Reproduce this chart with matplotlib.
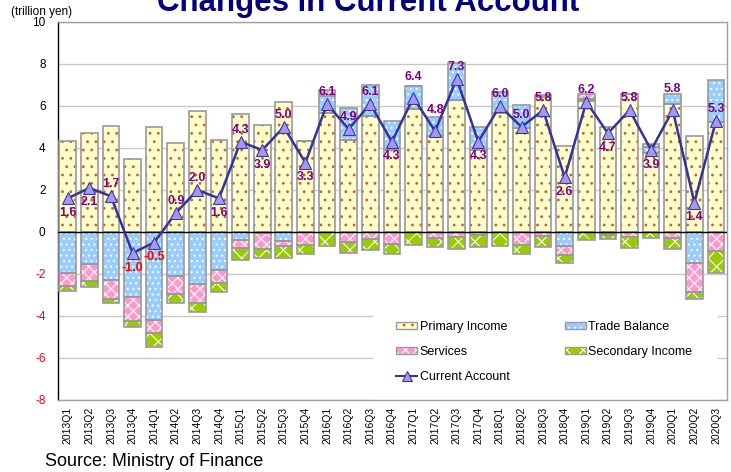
import matplotlib
matplotlib.use("Agg")
import matplotlib.pyplot as plt
import numpy as np
from matplotlib.patches import Patch, Rectangle
from matplotlib.lines import Line2D
from matplotlib.legend_handler import HandlerTuple

plt.rcParams['font.family'] = ['Liberation Sans', 'DejaVu Sans']
plt.rcParams['hatch.linewidth'] = 0.8

# ---------------- data (trillion yen) ----------------
quarters = ["2013Q1", "2013Q2", "2013Q3", "2013Q4", "2014Q1", "2014Q2", "2014Q3", "2014Q4",
            "2015Q1", "2015Q2", "2015Q3", "2015Q4", "2016Q1", "2016Q2", "2016Q3", "2016Q4",
            "2017Q1", "2017Q2", "2017Q3", "2017Q4", "2018Q1", "2018Q2", "2018Q3", "2018Q4",
            "2019Q1", "2019Q2", "2019Q3", "2019Q4", "2020Q1", "2020Q2", "2020Q3"]

primary_income = [4.35, 4.70, 5.07, 3.46, 4.98, 4.23, 5.74, 4.39,
                  5.61, 5.10, 6.19, 4.32, 5.66, 4.39, 5.53, 3.92,
                  5.87, 4.55, 6.30, 3.92, 5.68, 4.94, 6.43, 4.08,
                  6.24, 4.98, 6.56, 3.76, 6.08, 4.55, 5.24]

trade_balance = [-1.93, -1.53, -2.27, -3.11, -4.19, -2.09, -2.48, -1.82,
                 -0.39, -0.07, -0.44, 0.00, 0.84, 1.50, 1.49, 1.36,
                 1.10, 0.94, 1.77, 1.10, 0.97, 1.12, 0.09, -0.69,
                 0.11, -0.04, 0.00, 0.29, 0.51, -1.47, 2.02]

services = [-0.63, -0.79, -0.92, -1.11, -0.61, -0.86, -0.90, -0.61,
            -0.35, -0.72, -0.24, -0.63, 0.25, -0.48, -0.32, -0.55,
            0.00, -0.27, -0.24, -0.16, 0.00, -0.64, -0.19, -0.39,
            0.21, -0.12, -0.24, 0.13, -0.27, -1.38, -0.91]

secondary_income = [-0.24, -0.29, -0.17, -0.28, -0.68, -0.45, -0.41, -0.41,
                    -0.60, -0.45, -0.54, -0.40, -0.65, -0.50, -0.55, -0.49,
                    -0.61, -0.45, -0.59, -0.54, -0.67, -0.43, -0.54, -0.40,
                    -0.40, -0.19, -0.52, -0.30, -0.52, -0.35, -1.06]

current_account = [1.6, 2.1, 1.7, -1.0, -0.5, 0.9, 2.0, 1.6,
                   4.3, 3.9, 5.0, 3.3, 6.1, 4.9, 6.1, 4.3,
                   6.4, 4.8, 7.3, 4.3, 6.0, 5.0, 5.8, 2.6,
                   6.2, 4.7, 5.8, 3.9, 5.8, 1.4, 5.3]

# label placement: a = above, A = far above, b = below
label_pos = ['b', 'b', 'a', 'b', 'b', 'a', 'a', 'b',
             'a', 'b', 'a', 'b', 'a', 'a', 'a', 'b',
             'A', 'A', 'a', 'b', 'a', 'a', 'a', 'b',
             'a', 'b', 'a', 'b', 'A', 'b', 'a']

# ---------------- figure ----------------
fig = plt.figure(figsize=(7.31, 4.72), dpi=100)
ax = fig.add_axes([58/731, 1-400/472, (727-58)/731, (400-22)/472])

x = np.arange(len(quarters))
width = 0.77
edge_gray = '#999999'

series = [
    ("Primary Income", primary_income, '#FFFFCC', '..', '#C8602E'),
    ("Trade Balance", trade_balance, '#99CCFF', '...', 'white'),
    ("Services", services, '#FF99CC', 'xxx', 'white'),
    ("Secondary Income", secondary_income, '#99CC00', 'xx', 'white'),
]

pos_bottom = np.zeros(len(x))
neg_bottom = np.zeros(len(x))
handles = {}
for name, vals, face, hatch, hcol in series:
    v = np.array(vals, dtype=float)
    bottom = np.where(v >= 0, pos_bottom, neg_bottom)
    ax.bar(x, v, bottom=bottom, width=width, color=face, edgecolor=hcol,
           linewidth=0, hatch=hatch, zorder=2)
    ax.bar(x, v, bottom=bottom, width=width, fill=False, edgecolor=edge_gray,
           linewidth=1.2, zorder=3)
    pos_bottom = pos_bottom + np.where(v >= 0, v, 0)
    neg_bottom = neg_bottom + np.where(v < 0, v, 0)
    p1 = Patch(facecolor=face, edgecolor=hcol, linewidth=0, hatch=hatch)
    p2 = Patch(facecolor='none', edgecolor=edge_gray, linewidth=1.0)
    handles[name] = (p1, p2)

line_col = '#333399'
ax.plot(x, current_account, color=line_col, linewidth=1.8, marker='^',
        markersize=8.5, markerfacecolor='#A597F2', markeredgecolor='#3A3AA0',
        markeredgewidth=0.8, zorder=5)

for xi, v, pos in zip(x, current_account, label_pos):
    col = '#FF0000' if v < 0 else '#800080'
    if pos == 'a':
        off = 8.5
    elif pos == 'A':
        off = 15
    else:
        off = -10.5
    ax.annotate(f"{v:.1f}", (xi, v), xytext=(0, off), textcoords='offset points',
                ha='center', va='center', fontsize=9, fontweight='bold',
                color=col, zorder=6)

# axes styling
ax.set_xlim(-0.45, len(x) - 0.49)
ax.set_ylim(-8, 10)
ax.set_yticks(np.arange(-8, 11, 2))
ax.set_yticklabels([str(t) for t in range(-8, 11, 2)], fontsize=8.5)
for lbl, t in zip(ax.get_yticklabels(), range(-8, 11, 2)):
    lbl.set_color('#FF0000' if t < 0 else 'black')
ax.set_xticks(x)
ax.set_xticklabels(quarters, rotation=90, fontsize=7.5)
ax.tick_params(axis='x', length=0, pad=5)
ax.tick_params(axis='y', length=0, pad=9)

ax.grid(axis='y', color='#C8C8C8', linewidth=1, zorder=0)
ax.set_axisbelow(True)
ax.axhline(0, color='black', linewidth=1, zorder=4)
for s in ['top', 'right', 'bottom']:
    ax.spines[s].set_color('#A0A0A0')
    ax.spines[s].set_linewidth(1)
ax.spines['left'].set_color('black')
ax.spines['left'].set_linewidth(1)

# white area behind legend (hides gridlines)
ax.add_patch(Rectangle(((373-58)/669, 0.0), (718-373)/669, (400-293)/378,
                       transform=ax.transAxes, facecolor='white', edgecolor='none',
                       zorder=1))

ca_handle = Line2D([], [], color=line_col, linewidth=1.5, marker='^', markersize=7,
                   markerfacecolor='#A597F2', markeredgecolor='#3A3AA0', markeredgewidth=0.8)
leg_handles = [handles["Primary Income"], handles["Services"], ca_handle,
               handles["Trade Balance"], handles["Secondary Income"]]
leg_labels = ["Primary Income", "Services", "Current Account",
              "Trade Balance", "Secondary Income"]
leg = ax.legend(leg_handles, leg_labels, ncol=2, loc='upper left',
                bbox_to_anchor=((396-58)/669, (400-321)/378), frameon=False,
                fontsize=9, handlelength=1.7, handleheight=0.55, handletextpad=0.2,
                columnspacing=4.4, labelspacing=1.05, borderpad=0, borderaxespad=0,
                handler_map={tuple: HandlerTuple(ndivide=1, pad=0)})
leg.set_zorder(7)

# texts
fig.text(42/731, 1-12/472, "(trillion yen)", ha='center', va='center', fontsize=8.5)
fig.text(0.503, 1-10.5/472, "Changes in Current Account", ha='center', va='baseline',
         fontsize=22.5, fontweight='bold', color='#000080')
fig.text(45/731, 1-462/472, "Source: Ministry of Finance", ha='left', va='center',
         fontsize=13)

fig.savefig("out.png", dpi=100)
